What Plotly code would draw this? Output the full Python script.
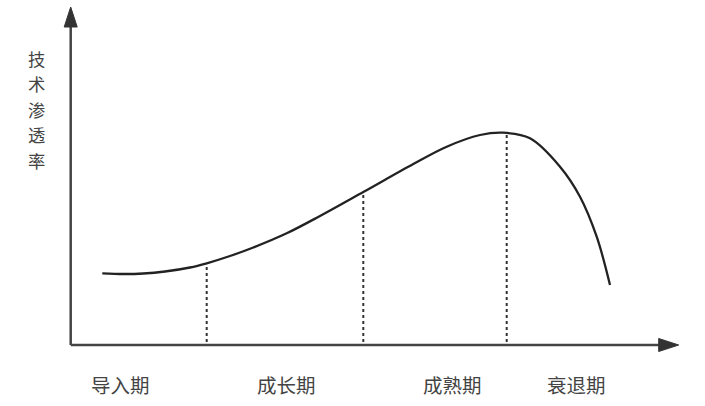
import plotly.graph_objects as go

# Curve of technology penetration over the life cycle (x: time, y: penetration)
curve_x = [31.6, 52.6, 72.6, 94.3, 119.3, 136.0, 159.3, 182.6, 216.0, 249.3, 292.6,
           342.6, 376.0, 409.3, 432.6, 459.3, 489.3, 509.3, 526.0, 539.3]
curve_y = [71.7, 71.0, 71.5, 73.5, 77.5, 81.7, 89.0, 97.5, 111.7, 129.0, 153.0,
           181.0, 198.3, 210.0, 212.3, 206.7, 178.3, 148.3, 108.3, 60.0]

# Stage boundaries (dotted lines) and curve height there
bound_x = [136.0, 292.6, 436.0]
bound_y = [81.7, 153.0, 212.0]

# Stage labels and their positions along the time axis
stages = ["导入期", "成长期", "成熟期", "衰退期"]
stage_x = [49.3, 216.0, 381.8, 506.0]

ylabel = "技术渗透率"

AX = "#444444"
FONT = "Noto Sans CJK SC"

fig = go.Figure()

# dotted stage boundaries
for bx, by in zip(bound_x, bound_y):
    fig.add_trace(go.Scatter(x=[bx, bx], y=[3, by - 1], mode="lines",
                             line=dict(color="#333333", width=2, dash="dot"),
                             hoverinfo="skip", showlegend=False))

# main curve
fig.add_trace(go.Scatter(x=curve_x, y=curve_y, mode="lines",
                         line=dict(color="#222222", width=2.3, shape="spline", smoothing=1.0),
                         hoverinfo="skip", showlegend=False))

shapes = [
    # x axis
    dict(type="line", x0=0, y0=0, x1=590, y1=0, line=dict(color=AX, width=2.5), layer="above"),
    # y axis
    dict(type="line", x0=0, y0=0, x1=0, y1=320, line=dict(color=AX, width=2.5), layer="above"),
    # arrowheads
    dict(type="path", path="M 588 6.5 L 608 0 L 588 -6.5 Z", fillcolor="#333333",
         line=dict(color="#333333", width=1)),
    dict(type="path", path="M -6.5 318 L 0 338 L 6.5 318 Z", fillcolor="#333333",
         line=dict(color="#333333", width=1)),
]

annotations = []
for s, sx in zip(stages, stage_x):
    annotations.append(dict(x=sx, y=-39, xref="x", yref="y", text=s, showarrow=False,
                            font=dict(family=FONT, size=19.5, color="#444444"),
                            xanchor="center", yanchor="middle"))
for i, ch in enumerate(ylabel):
    annotations.append(dict(x=-34, y=287 - i * 25.5, xref="x", yref="y", text=ch, showarrow=False,
                            font=dict(family=FONT, size=17.3, color="#444444"),
                            xanchor="center", yanchor="middle"))

fig.update_layout(
    width=705, height=406, autosize=False,
    margin=dict(l=0, r=0, t=0, b=0),
    paper_bgcolor="white", plot_bgcolor="white",
    xaxis=dict(range=[-70.7, 634.3], visible=False, fixedrange=True),
    yaxis=dict(range=[-61, 345], visible=False, fixedrange=True),
    shapes=shapes, annotations=annotations,
    showlegend=False,
)

fig.write_html("out.html", config={"displayModeBar": False},
               post_script="document.body.style.margin='0';")
